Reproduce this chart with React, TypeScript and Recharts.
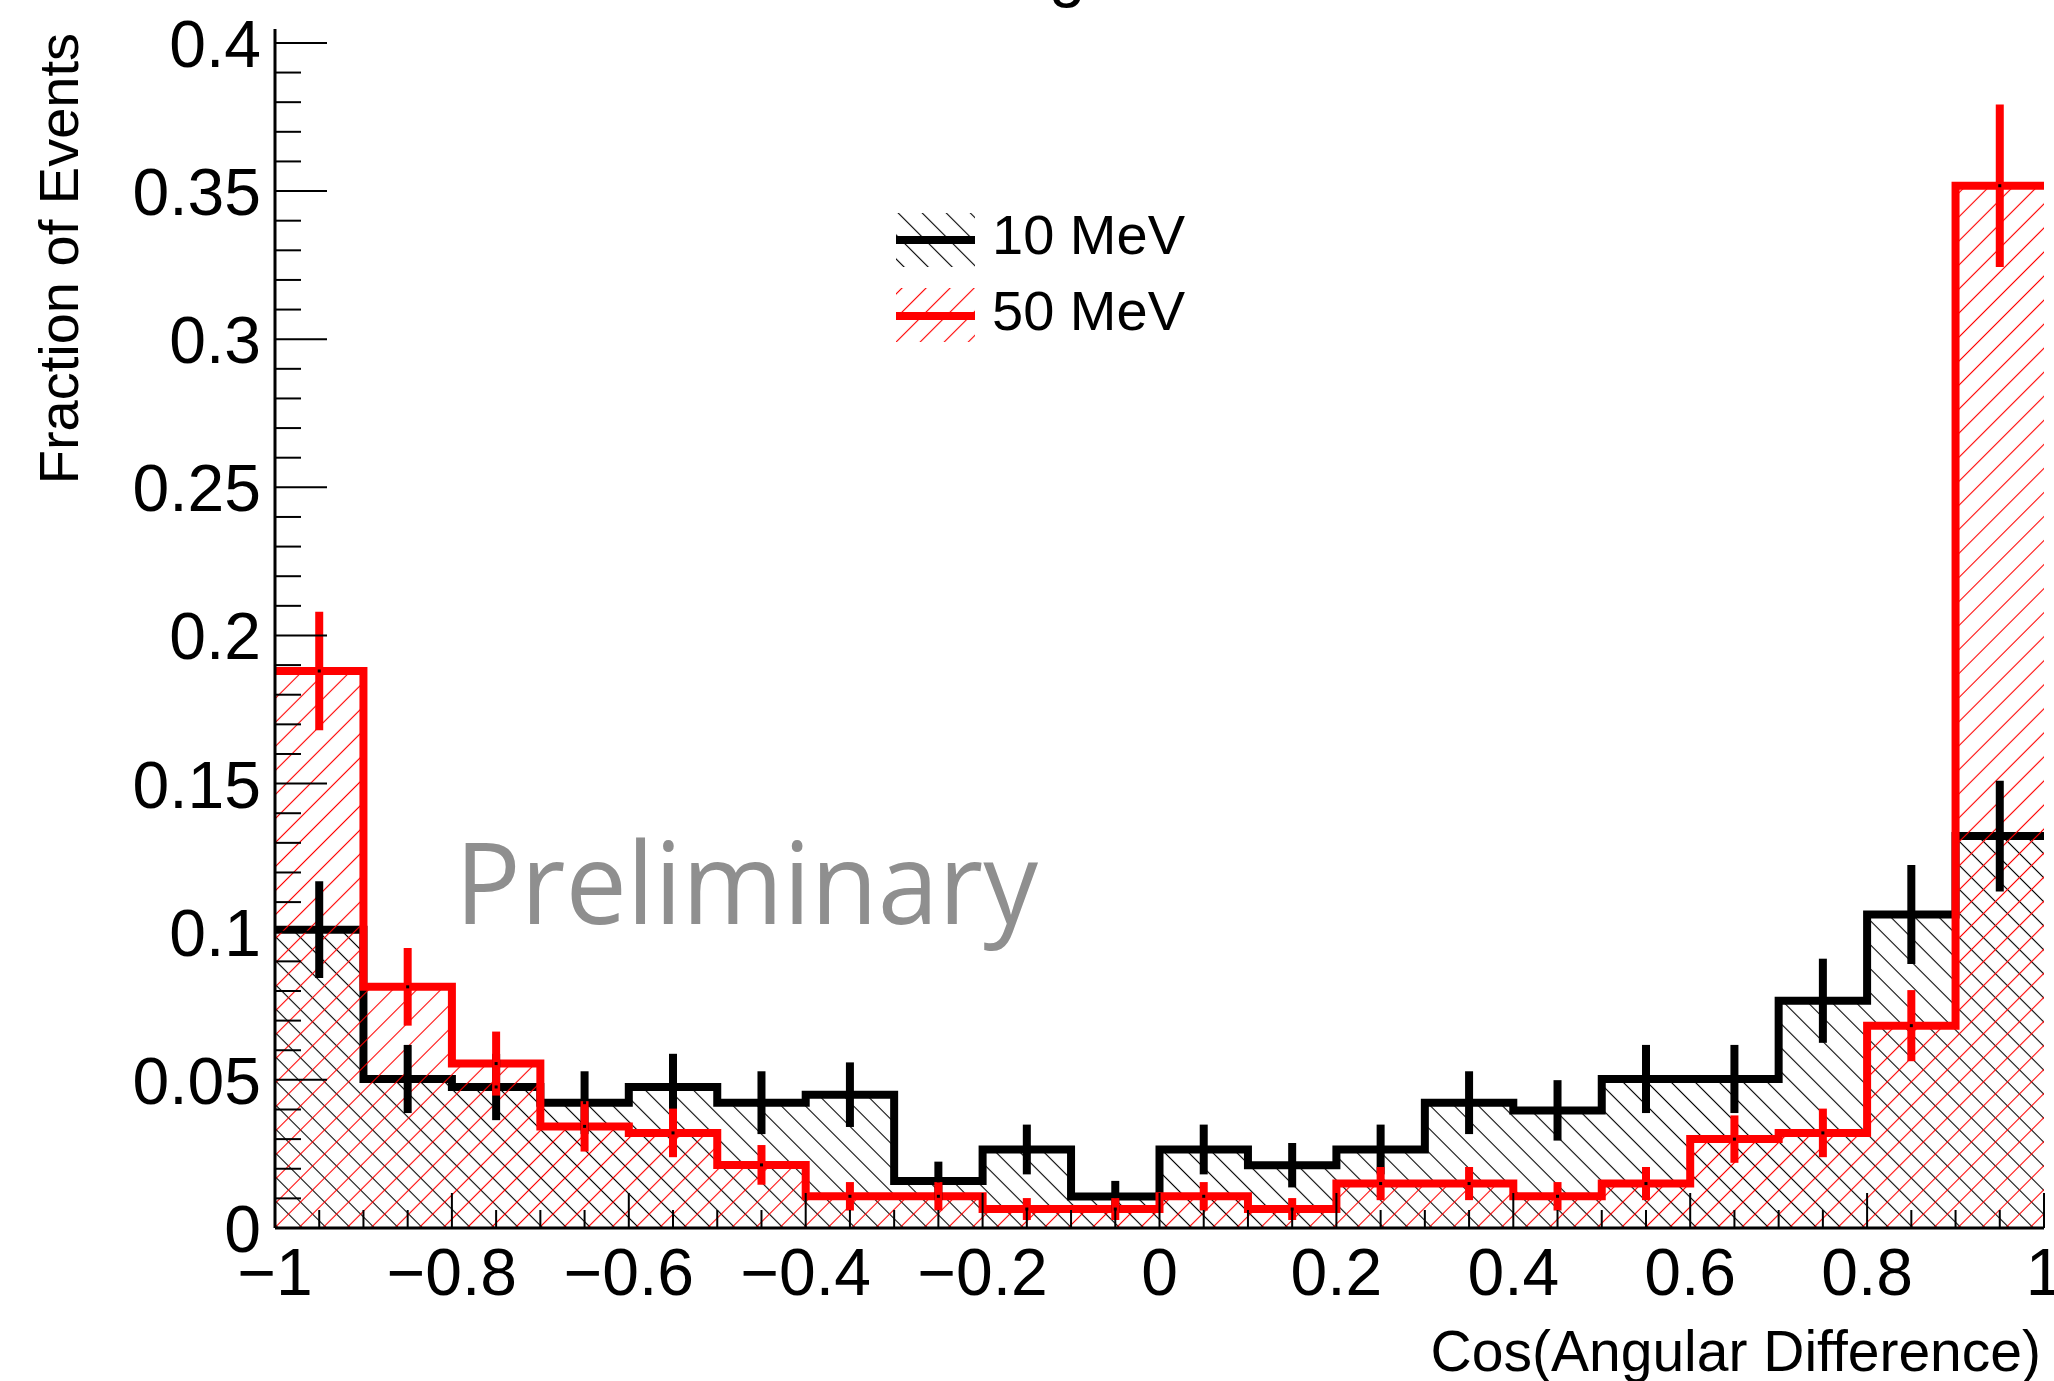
import { ComposedChart, Area, Scatter, ErrorBar, XAxis, YAxis } from 'recharts';

// Bin lower edges (width 0.1) in cos(angular difference)
const binLow = [-1, -0.9, -0.8, -0.7, -0.6, -0.5, -0.4, -0.3, -0.2, -0.1, 0, 0.1, 0.2, 0.3, 0.4, 0.5, 0.6, 0.7, 0.8, 0.9];
const binWidth = 0.1;

// 10 MeV sample: fraction of events per bin and its uncertainty
const frac10 = [0.1007, 0.0503, 0.0476, 0.0423, 0.0476, 0.0423, 0.045, 0.0159, 0.0265, 0.0106, 0.0265, 0.0212, 0.0265, 0.0423, 0.0397, 0.0503, 0.0503, 0.0767, 0.1058, 0.1323];
const err10 = [0.0163, 0.0115, 0.0112, 0.0106, 0.0112, 0.0106, 0.0109, 0.0065, 0.0084, 0.0053, 0.0084, 0.0075, 0.0084, 0.0106, 0.0102, 0.0115, 0.0115, 0.0142, 0.0167, 0.0187];

// 50 MeV sample
const frac50 = [0.188, 0.0814, 0.0555, 0.0343, 0.0321, 0.0213, 0.0107, 0.0107, 0.0064, 0.0064, 0.0107, 0.0064, 0.015, 0.015, 0.0107, 0.015, 0.03, 0.0321, 0.0683, 0.3518];
const err50 = [0.02, 0.0131, 0.0108, 0.0085, 0.0082, 0.0067, 0.0048, 0.0048, 0.0037, 0.0037, 0.0048, 0.0037, 0.0056, 0.0056, 0.0048, 0.0056, 0.008, 0.0082, 0.012, 0.0274];

const yMajor = [0, 0.05, 0.1, 0.15, 0.2, 0.25, 0.3, 0.35, 0.4];
const yTickLabels = ['0', '0.05', '0.1', '0.15', '0.2', '0.25', '0.3', '0.35', '0.4'];
const xMajor = [-1, -0.8, -0.6, -0.4, -0.2, 0, 0.2, 0.4, 0.6, 0.8, 1];
const xTickLabels = ['\u22121', '\u22120.8', '\u22120.6', '\u22120.4', '\u22120.2', '0', '0.2', '0.4', '0.6', '0.8', '1'];

const W = 2054;
const H = 1381;
const FONT = '"Liberation Sans", Arial, Helvetica, sans-serif';

// step histogram rows: one per lower edge, plus the closing edge at x = 1
const histRows = [
  ...binLow.map((lo, i) => ({ x: lo, h10: frac10[i], h50: frac50[i] })),
  { x: binLow[binLow.length - 1] + binWidth, h10: frac10[frac10.length - 1], h50: frac50[frac50.length - 1] },
];
const pts10 = binLow.map((lo, i) => ({ x: lo + binWidth / 2, y: frac10[i], err: err10[i] }));
const pts50 = binLow.map((lo, i) => ({ x: lo + binWidth / 2, y: frac50[i], err: err50[i] }));

// minor ticks: 0.01 on y, 0.05 on x
const yTicks = Array.from({ length: 41 }, (_, i) => i / 100);
const xTicks = Array.from({ length: 41 }, (_, i) => Math.round(-100 + i * 5) / 100);

const YTick = (props: any) => {
  const { x, y, payload } = props;
  const v = payload.value;
  const idx = yMajor.findIndex((m) => Math.abs(m - v) < 1e-6);
  const major = idx >= 0;
  return (
    <g>
      <line x1={x} x2={x + (major ? 52 : 26)} y1={y} y2={y} stroke="#000" strokeWidth={2} />
      {major && (
        <text x={x - 14} y={y + 24} textAnchor="end" fontFamily={FONT} fontSize={66} fill="#000">
          {yTickLabels[idx]}
        </text>
      )}
    </g>
  );
};

const XTick = (props: any) => {
  const { x, y, payload } = props;
  const v = payload.value;
  const idx = xMajor.findIndex((m) => Math.abs(m - v) < 1e-6);
  const major = idx >= 0;
  return (
    <g>
      <line x1={x} x2={x} y1={y} y2={y - (major ? 35 : 18)} stroke="#000" strokeWidth={2} />
      {major && (
        <text x={x} y={y + 67} textAnchor="middle" fontFamily={FONT} fontSize={66} fill="#000">
          {xTickLabels[idx]}
        </text>
      )}
    </g>
  );
};

const Marker = (props: any) => <rect x={props.cx - 1.5} y={props.cy - 1.5} width={3} height={3} fill="#000" />;

const App = () => {
  return (
    <div style={{ position: 'absolute', left: 0, top: 0, width: W, height: H, background: '#fff', overflow: 'hidden' }}>
      <svg width={0} height={0} style={{ position: 'absolute' }}>
        <defs>
          <pattern id="hatch10" patternUnits="userSpaceOnUse" width={17} height={17} patternTransform="rotate(-45)">
            <line x1={8.5} y1={0} x2={8.5} y2={17} stroke="#000" strokeWidth={1.1} />
          </pattern>
          <pattern id="hatch50" patternUnits="userSpaceOnUse" width={17} height={17} patternTransform="rotate(45)">
            <line x1={8.5} y1={0} x2={8.5} y2={17} stroke="#ff0000" strokeWidth={1.1} />
          </pattern>
        </defs>
      </svg>

      <ComposedChart width={W} height={H} data={histRows} margin={{ top: 29, right: 10, bottom: 0, left: 0 }}>
        <XAxis
          dataKey="x"
          type="number"
          domain={[-1, 1]}
          ticks={xTicks}
          interval={0}
          height={153}
          tickSize={0}
          tickMargin={0}
          tickLine={false}
          tick={<XTick />}
          axisLine={{ stroke: '#000', strokeWidth: 3 }}
          allowDataOverflow
        />
        <XAxis xAxisId="top" orientation="top" type="number" domain={[-1, 1]} height={0} tick={false} tickLine={false} axisLine={{ stroke: '#000', strokeWidth: 3 }} />
        <YAxis
          type="number"
          domain={[0, 0.4047]}
          ticks={yTicks}
          interval={0}
          width={275}
          tickSize={0}
          tickMargin={0}
          tickLine={false}
          tick={<YTick />}
          axisLine={{ stroke: '#000', strokeWidth: 3 }}
          allowDataOverflow
        />
        <YAxis yAxisId="right" orientation="right" type="number" domain={[0, 1]} width={0} tick={false} tickLine={false} axisLine={{ stroke: '#000', strokeWidth: 3 }} />

        <Area
          type="stepAfter"
          dataKey="h10"
          stroke="#000"
          strokeWidth={8}
          strokeLinejoin="miter"
          fill="url(#hatch10)"
          fillOpacity={1}
          dot={false}
          activeDot={false}
          isAnimationActive={false}
        />
        <Scatter data={pts10} dataKey="y" shape={Marker} isAnimationActive={false}>
          <ErrorBar dataKey="err" direction="y" width={0} stroke="#000" strokeWidth={8} isAnimationActive={false} />
        </Scatter>
        <Area
          type="stepAfter"
          dataKey="h50"
          stroke="#ff0000"
          strokeWidth={8}
          strokeLinejoin="miter"
          fill="url(#hatch50)"
          fillOpacity={1}
          dot={false}
          activeDot={false}
          isAnimationActive={false}
        />
        <Scatter data={pts50} dataKey="y" shape={Marker} isAnimationActive={false}>
          <ErrorBar dataKey="err" direction="y" width={0} stroke="#ff0000" strokeWidth={8} isAnimationActive={false} />
        </Scatter>
      </ComposedChart>

      {/* titles, legend and watermark */}
      <svg width={W} height={H} style={{ position: 'absolute', left: 0, top: 0, pointerEvents: 'none' }}>
        <text x={1067} y={-6} textAnchor="middle" fontFamily={FONT} fontSize={66} fill="#000">g</text>
        <text transform="translate(78,33) rotate(-90)" textAnchor="end" fontFamily={FONT} fontSize={56} fill="#000">
          Fraction of Events
        </text>
        <text x={2041} y={1371} textAnchor="end" fontFamily={FONT} fontSize={57} fill="#000">
          Cos(Angular Difference)
        </text>
        <text
          x={455}
          y={924}
          fontFamily='"Open Sans", Lato, sans-serif'
          fontSize={113}
          fill="#8f8f8f"
          textLength={583}
          lengthAdjust="spacingAndGlyphs"
        >
          Preliminary
        </text>

        <rect x={896} y={213} width={79} height={54} fill="url(#hatch10)" />
        <line x1={896} x2={975} y1={240} y2={240} stroke="#000" strokeWidth={8} />
        <text x={992} y={254} fontFamily={FONT} fontSize={56} fill="#000">10 MeV</text>

        <rect x={896} y={288} width={79} height={54} fill="url(#hatch50)" />
        <line x1={896} x2={975} y1={316} y2={316} stroke="#ff0000" strokeWidth={8} />
        <text x={992} y={330} fontFamily={FONT} fontSize={56} fill="#000">50 MeV</text>
      </svg>
    </div>
  );
};

export default App;
